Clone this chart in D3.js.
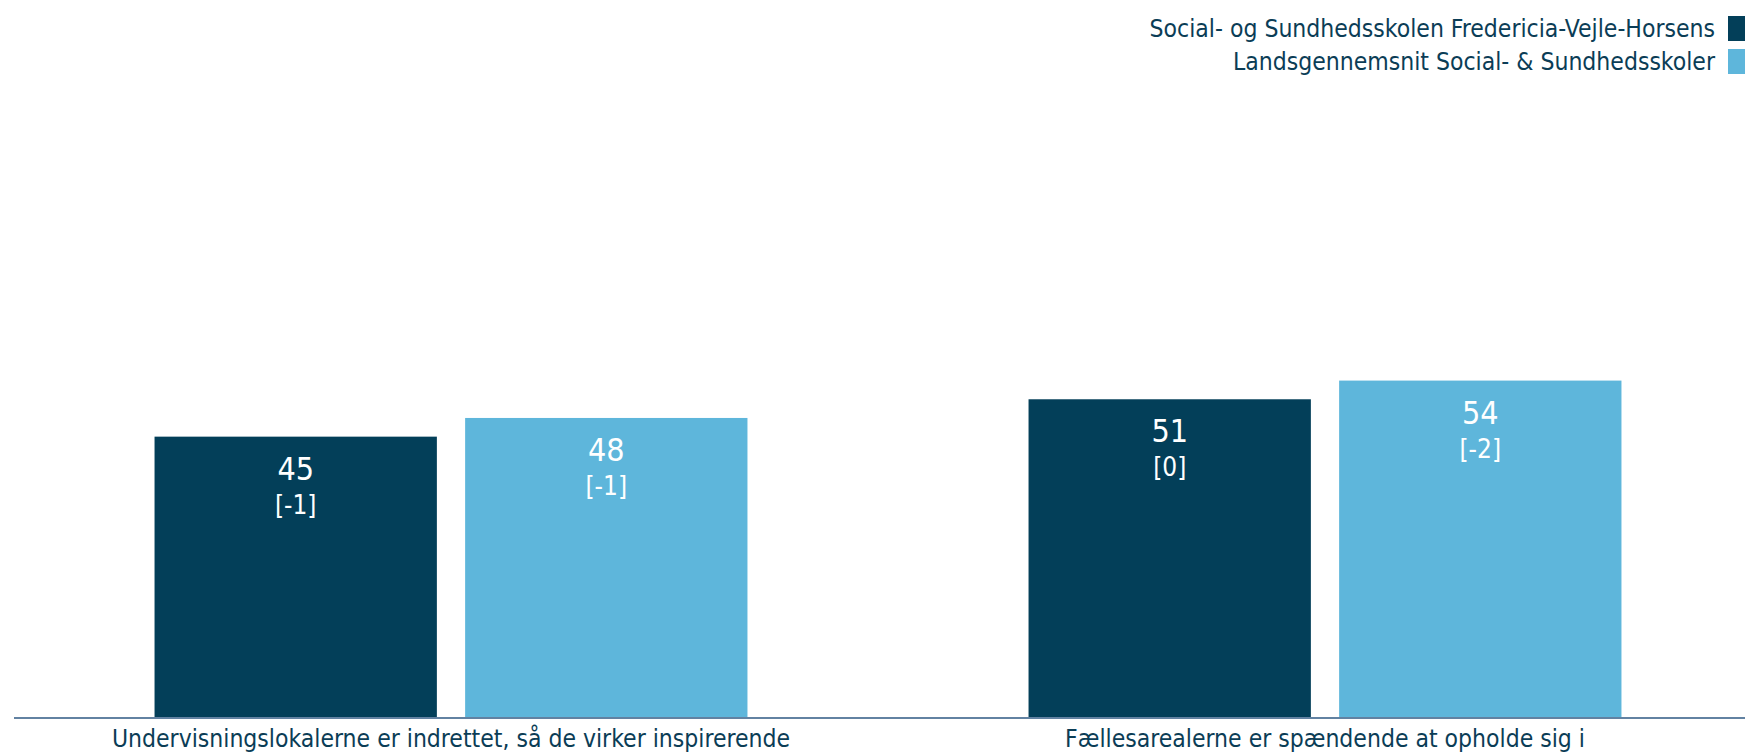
<!DOCTYPE html>
<html>
<head>
<meta charset="utf-8">
<script src="https://cdn.jsdelivr.net/npm/d3@7"></script>
<style>
  html, body { margin: 0; padding: 0; background: #fff; }
  svg { display: block; }
  text { font-family: "DejaVu Sans", sans-serif; font-stretch: condensed; }
</style>
</head>
<body>
<svg id="chart" width="1745" height="755"></svg>
<script>
// Questions (categories) and the two series
const categories = [
  "Undervisningslokalerne er indrettet, så de virker inspirerende",
  "Fællesarealerne er spændende at opholde sig i"
];
const seriesNames = [
  "Social- og Sundhedsskolen Fredericia-Vejle-Horsens",
  "Landsgennemsnit Social- & Sundhedsskoler"
];
const schoolValues = [45, 51];
const nationalValues = [48, 54];
// Change since last measurement, shown in brackets
const schoolChange = [-1, 0];
const nationalChange = [-1, -2];

const colors = ["#033f59", "#5eb6db"];
const textColor = "#0b3d56";

const svg = d3.select("#chart");
const W = 1745, H = 755;

const rows = categories.map((c, i) => ({
  category: c,
  bars: [
    { series: 0, value: schoolValues[i], change: schoolChange[i] },
    { series: 1, value: nationalValues[i], change: nationalChange[i] }
  ]
}));

const x0 = d3.scaleBand()
  .domain(categories)
  .range([14, 1762])
  .paddingInner(0.3216)
  .paddingOuter(0.1608);

const x1 = d3.scaleBand()
  .domain([0, 1])
  .range([0, x0.bandwidth()])
  .paddingInner(0.091)
  .paddingOuter(0);

const y = d3.scaleLinear().domain([0, 100]).range([717, 94]);

const groups = svg.append("g").selectAll("g")
  .data(rows)
  .join("g")
  .attr("transform", d => `translate(${x0(d.category)},0)`);

groups.selectAll("rect")
  .data(d => d.bars)
  .join("rect")
  .attr("x", d => x1(d.series))
  .attr("width", x1.bandwidth())
  .attr("y", d => y(d.value))
  .attr("height", d => y(0) - y(d.value))
  .attr("fill", d => colors[d.series]);

groups.selectAll("text.value")
  .data(d => d.bars)
  .join("text")
  .attr("class", "value")
  .attr("x", d => x1(d.series) + x1.bandwidth() / 2)
  .attr("y", d => y(d.value) + 43)
  .attr("text-anchor", "middle")
  .attr("fill", "#fff")
  .attr("font-size", 32)
  .text(d => d.value);

groups.selectAll("text.change")
  .data(d => d.bars)
  .join("text")
  .attr("class", "change")
  .attr("x", d => x1(d.series) + x1.bandwidth() / 2)
  .attr("y", d => y(d.value) + 77)
  .attr("text-anchor", "middle")
  .attr("fill", "#fff")
  .attr("font-size", 26)
  .text(d => `[${d.change}]`);

// Category axis along the baseline
const axis = svg.append("g")
  .attr("transform", `translate(0,${y(0)})`)
  .call(d3.axisBottom(x0).tickSize(0).tickPadding(0));
axis.select(".domain")
  .attr("d", `M14,1H${W}`)
  .attr("stroke", "#6282a2")
  .attr("stroke-width", 2);
axis.selectAll(".tick text")
  .attr("y", 30)
  .attr("dy", null)
  .attr("font-size", 24.5)
  .attr("fill", textColor)
  .style("font-family", "\"DejaVu Sans\", sans-serif");

// Legend, right-aligned in the top corner
const legend = svg.append("g").selectAll("g")
  .data(seriesNames)
  .join("g")
  .attr("transform", (d, i) => `translate(0,${16 + i * 33})`);
legend.append("rect")
  .attr("x", 1728)
  .attr("y", 0)
  .attr("width", 20)
  .attr("height", 25)
  .attr("fill", (d, i) => colors[i]);
legend.append("text")
  .attr("x", 1715)
  .attr("y", 21)
  .attr("text-anchor", "end")
  .attr("font-size", 24.5)
  .attr("fill", textColor)
  .text(d => d);
</script>
</body>
</html>
